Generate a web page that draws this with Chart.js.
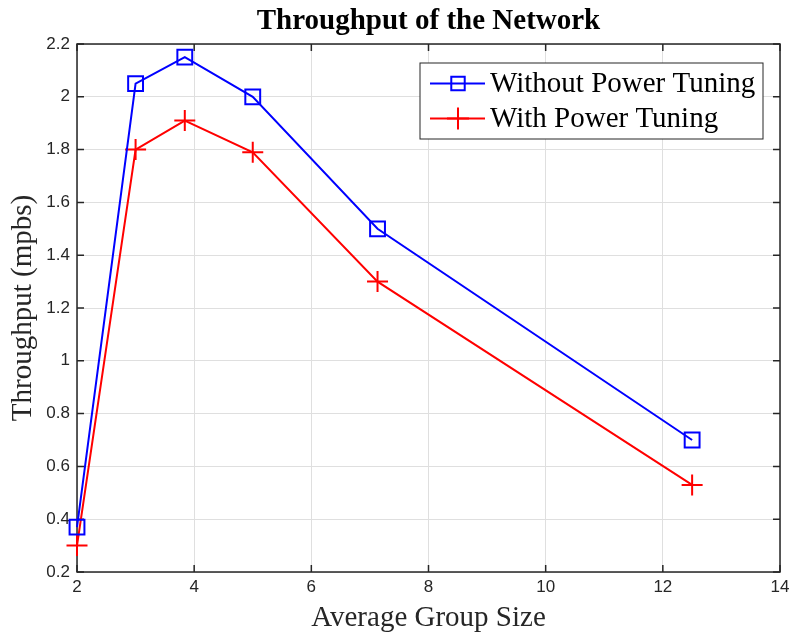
<!DOCTYPE html>
<html>
<head>
<meta charset="utf-8">
<script src="https://cdn.jsdelivr.net/npm/chart.js@4.4.1/dist/chart.umd.min.js"></script>
<style>
  html, body { margin: 0; padding: 0; background: #fff; }
</style>
</head>
<body>
<canvas id="throughputChart" width="790" height="637"></canvas>
<script>
// measured throughput vs. average group size
const groupSize = [2, 3, 3.84, 5, 7.13, 12.5];
const withoutTuning = [0.37, 2.05, 2.15, 2.0, 1.5, 0.7];
const withTuning = [0.3, 1.8, 1.91, 1.79, 1.3, 0.53];
const seriesNames = ['Without Power Tuning', 'With Power Tuning'];
const xTicks = [2, 4, 6, 8, 10, 12, 14];
const yTicks = [0.2, 0.4, 0.6, 0.8, 1, 1.2, 1.4, 1.6, 1.8, 2, 2.2];

const axisColor = '#262626';
const gridColor = '#dfdfdf';
const serif = 'Liberation Serif, Times New Roman, serif';
const sans = 'Liberation Sans, Arial, sans-serif';

function toPoints(xs, ys) {
    return xs.map((x, i) => ({ x: x, y: ys[i] }));
}

// box around the axes with inward ticks on all four sides
const axesBox = {
    id: 'axesBox',
    beforeDatasetsDraw(chart) {
        const { ctx, chartArea: a, scales } = chart;
        const len = 7;
        ctx.save();
        ctx.strokeStyle = axisColor;
        ctx.lineWidth = 1.5;
        ctx.strokeRect(a.left, a.top, a.width, a.height);
        ctx.beginPath();
        scales.x.ticks.forEach(t => {
            const px = scales.x.getPixelForValue(t.value);
            ctx.moveTo(px, a.bottom); ctx.lineTo(px, a.bottom - len);
            ctx.moveTo(px, a.top); ctx.lineTo(px, a.top + len);
        });
        scales.y.ticks.forEach(t => {
            const py = scales.y.getPixelForValue(t.value);
            ctx.moveTo(a.left, py); ctx.lineTo(a.left + len, py);
            ctx.moveTo(a.right, py); ctx.lineTo(a.right - len, py);
        });
        ctx.stroke();
        ctx.restore();
    }
};

// legend in the upper right corner, line + marker samples
const boxLegend = {
    id: 'boxLegend',
    afterDraw(chart) {
        const { ctx, chartArea: a } = chart;
        const w = 343, h = 76;
        const left = a.right - 17 - w;
        const top = a.top + 19;
        ctx.save();
        ctx.fillStyle = '#fff';
        ctx.fillRect(left, top, w, h);
        ctx.strokeStyle = axisColor;
        ctx.lineWidth = 1;
        ctx.strokeRect(left, top, w, h);
        chart.data.datasets.forEach((ds, i) => {
            const cy = top + 20.5 + i * 35;
            ctx.strokeStyle = ds.borderColor;
            ctx.lineWidth = ds.borderWidth;
            ctx.beginPath();
            ctx.moveTo(left + 10, cy);
            ctx.lineTo(left + 65, cy);
            ctx.stroke();
            ctx.fillStyle = 'rgba(0,0,0,0)';
            Chart.helpers.drawPoint(ctx, {
                pointStyle: ds.pointStyle,
                radius: ds.pointStyle === 'rect' ? 9.5 : 11,
                borderWidth: ds.pointBorderWidth,
                rotation: 0
            }, left + 38, cy);
            ctx.fillStyle = '#000';
            ctx.font = '29px ' + serif;
            ctx.textBaseline = 'middle';
            ctx.textAlign = 'left';
            ctx.fillText(ds.label, left + 70, cy + 1);
        });
        ctx.restore();
    }
};

// drop the extra room the scales reserve for edge labels
function trimPadding(s) {
    s.paddingLeft = 0;
    s.paddingRight = 0;
    s.paddingTop = 0;
    s.paddingBottom = 0;
}

const ctx = document.getElementById('throughputChart').getContext('2d');

new Chart(ctx, {
    type: 'line',
    data: {
        datasets: [{
            label: seriesNames[0],
            data: toPoints(groupSize, withoutTuning),
            borderColor: '#0000ff',
            borderWidth: 2,
            pointStyle: 'rect',
            pointRadius: 10.5,
            pointBorderWidth: 2,
            pointBorderColor: '#0000ff',
            pointBackgroundColor: 'rgba(0,0,0,0)',
            tension: 0,
            clip: false
        }, {
            label: seriesNames[1],
            data: toPoints(groupSize, withTuning),
            borderColor: '#ff0000',
            borderWidth: 2,
            pointStyle: 'cross',
            pointRadius: 10.5,
            pointBorderWidth: 2,
            pointBorderColor: '#ff0000',
            pointBackgroundColor: 'rgba(0,0,0,0)',
            tension: 0,
            clip: false
        }]
    },
    options: {
        responsive: false,
        animation: false,
        layout: { autoPadding: false, padding: { left: 0, right: 10, top: 0, bottom: 0 } },
        plugins: {
            legend: { display: false },
            tooltip: { enabled: false },
            title: {
                display: true,
                text: 'Throughput of the Network',
                fullSize: false,
                color: '#000',
                font: { family: serif, size: 29, weight: 'bold' },
                padding: { top: 4.6, bottom: 4.6 }
            }
        },
        scales: {
            x: {
                type: 'linear',
                min: 2,
                max: 14,
                afterBuildTicks: s => { s.ticks = xTicks.map(v => ({ value: v })); },
                afterFit: s => { s.height = 65; trimPadding(s); },
                grid: { color: gridColor, lineWidth: 1, drawTicks: false },
                border: { display: false },
                ticks: {
                    color: axisColor,
                    font: { family: sans, size: 17 },
                    padding: 5,
                    maxRotation: 0,
                    autoSkip: false,
                    callback: v => String(v)
                },
                title: {
                    display: true,
                    text: 'Average Group Size',
                    color: axisColor,
                    font: { family: serif, size: 29 },
                    padding: { top: 0, bottom: 1.5 }
                }
            },
            y: {
                type: 'linear',
                min: 0.2,
                max: 2.2,
                afterBuildTicks: s => { s.ticks = yTicks.map(v => ({ value: v })); },
                afterFit: s => { s.width = 77; trimPadding(s); },
                grid: { color: gridColor, lineWidth: 1, drawTicks: false },
                border: { display: false },
                ticks: {
                    color: axisColor,
                    font: { family: sans, size: 17 },
                    padding: 7,
                    autoSkip: false,
                    callback: v => String(Number(v.toFixed(1)))
                },
                title: {
                    display: true,
                    text: 'Throughput (mpbs)',
                    color: axisColor,
                    font: { family: serif, size: 29 },
                    padding: { top: 6, bottom: 0 }
                }
            }
        }
    },
    plugins: [axesBox, boxLegend]
});
</script>
</body>
</html>
